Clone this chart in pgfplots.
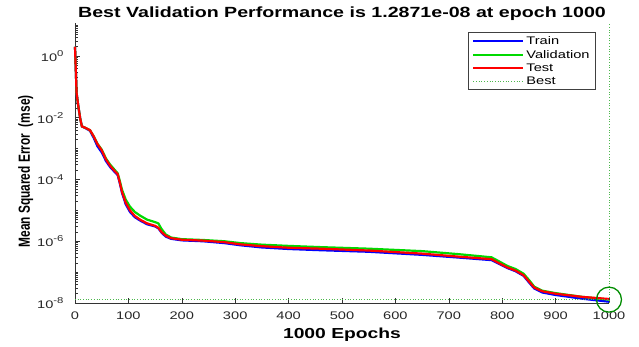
\documentclass[border=0pt]{standalone}
\usepackage{fontspec}
\setmainfont{Liberation Sans}[FakeStretch=1.33]
\newfontfamily\ylabfont{Liberation Sans}
\usepackage{pgfplots}
\pgfplotsset{compat=1.18}
\definecolor{mblue}{rgb}{0,0,1}
\definecolor{mgreen}{rgb}{0,0.85,0}
\definecolor{mred}{rgb}{1,0,0}
\definecolor{bestgreen}{rgb}{0,0.55,0}
\definecolor{dotgreen}{rgb}{0.3,0.72,0.3}
\newcommand{\tlab}[1]{10\raisebox{0.42em}{\fontsize{8.5}{9}\selectfont #1}}

\pgfplotstableread{
x y
0 2.0
3 6.31e-2
6 2.51e-2
10 8.91e-3
13 5.25e-3
20 4.57e-3
28 3.80e-3
35 2.24e-3
42 1.20e-3
50 7.59e-4
58 3.98e-4
66 2.51e-4
74 1.78e-4
80 1.38e-4
84 7.41e-5
88 3.72e-5
95 1.58e-5
103 8.91e-6
112 6.03e-6
122 4.68e-6
135 3.55e-6
150 3.02e-6
156 2.63e-6
162 1.91e-6
170 1.41e-6
180 1.20e-6
200 1.07e-6
240 1.0e-6
280 8.71e-7
310 7.41e-7
350 6.31e-7
400 5.62e-7
460 5.13e-7
550 4.57e-7
650 3.63e-7
720 2.95e-7
780 2.45e-7
795 1.82e-7
810 1.35e-7
825 1.07e-7
840 7.59e-8
850 4.68e-8
860 2.95e-8
875 2.19e-8
900 1.82e-8
950 1.38e-8
1000 1.10e-8
}\trainT

\pgfplotstableread{
x y
0 2.0
3 6.31e-2
6 2.51e-2
10 8.91e-3
13 5.25e-3
20 4.68e-3
28 3.98e-3
35 2.51e-3
42 1.45e-3
50 9.33e-4
58 4.79e-4
66 3.02e-4
74 2.09e-4
80 1.58e-4
84 8.91e-5
88 4.68e-5
95 2.24e-5
103 1.32e-5
112 8.91e-6
122 6.76e-6
135 5.01e-6
150 4.17e-6
156 3.80e-6
162 2.51e-6
170 1.66e-6
180 1.32e-6
200 1.17e-6
240 1.10e-6
280 1.0e-6
310 8.71e-7
350 7.76e-7
400 7.08e-7
460 6.46e-7
550 5.75e-7
650 4.79e-7
720 3.80e-7
780 3.02e-7
795 2.19e-7
810 1.58e-7
825 1.26e-7
840 8.91e-8
850 5.62e-8
860 3.39e-8
875 2.51e-8
900 2.09e-8
950 1.58e-8
1000 1.2871e-8
}\valT

\pgfplotstableread{
x y
0 2.0
3 6.31e-2
6 2.51e-2
10 8.91e-3
13 5.25e-3
20 4.68e-3
28 3.98e-3
35 2.51e-3
42 1.41e-3
50 8.91e-4
58 4.47e-4
66 2.75e-4
74 1.91e-4
80 1.48e-4
84 7.94e-5
88 3.98e-5
95 1.78e-5
103 1.0e-5
112 6.61e-6
122 5.01e-6
135 3.80e-6
150 3.16e-6
156 2.75e-6
162 2.0e-6
170 1.51e-6
180 1.26e-6
200 1.12e-6
240 1.05e-6
280 9.33e-7
310 7.94e-7
350 6.92e-7
400 6.17e-7
460 5.75e-7
550 5.01e-7
650 3.98e-7
720 3.16e-7
780 2.63e-7
795 1.91e-7
810 1.41e-7
825 1.12e-7
840 7.94e-8
850 5.01e-8
860 3.16e-8
875 2.40e-8
900 2.0e-8
950 1.58e-8
1000 1.35e-8
}\testT

\begin{document}
\begin{tikzpicture}
\path[use as bounding box] (-75pt,-43pt) rectangle (564pt,303pt);
\begin{axis}[
  at={(0pt,0pt)}, anchor=south west,
  width=534pt, height=280pt, scale only axis,
  ymode=log, xmin=0, xmax=1000, ymin=1e-8, ymax=11.75,
  clip=false,
  axis x line*=bottom, axis y line*=left,
  axis line style={black!80, line width=0.8pt},
  tick align=inside,
  major tick length=5pt, minor tick length=3pt,
  every tick/.style={black!80, line width=0.6pt},
  xtick={0,100,200,300,400,500,600,700,800,900,1000},
  xticklabels={0,100,200,300,400,500,600,700,800,900,1000},
  ytick={1e-8,1e-6,1e-4,1e-2,1},
  yticklabels={\tlab{-8},\tlab{-6},\tlab{-4},\tlab{-2},\tlab{0}},
  minor ytick={2e-8,3e-8,4e-8,5e-8,6e-8,7e-8,8e-8,9e-8,1e-7,
    2e-7,3e-7,4e-7,5e-7,6e-7,7e-7,8e-7,9e-7,
    2e-6,3e-6,4e-6,5e-6,6e-6,7e-6,8e-6,9e-6,1e-5,
    2e-5,3e-5,4e-5,5e-5,6e-5,7e-5,8e-5,9e-5,
    2e-4,3e-4,4e-4,5e-4,6e-4,7e-4,8e-4,9e-4,1e-3,
    2e-3,3e-3,4e-3,5e-3,6e-3,7e-3,8e-3,9e-3,
    2e-2,3e-2,4e-2,5e-2,6e-2,7e-2,8e-2,9e-2,1e-1,
    2e-1,3e-1,4e-1,5e-1,6e-1,7e-1,8e-1,9e-1,
    2,3,4,5,6,7,8,9,10},
  tick label style={font=\fontsize{11}{13}\selectfont, text=black!85},
  xticklabel style={anchor=base, yshift=-16.5pt},
  yticklabel style={anchor=east, xshift=-8pt},
  title={Best Validation Performance is 1.2871e-08 at epoch 1000},
  title style={font=\bfseries\fontsize{14.75}{16}\selectfont, at={(rel axis cs:0.5,1)}, anchor=base, yshift=0pt},
  xlabel={1000 Epochs},
  xlabel style={font=\bfseries\fontsize{14.5}{16}\selectfont, at={(rel axis cs:0.5,0)}, anchor=base, yshift=-35pt},
  ylabel={\scalebox{1}[1.35]{Mean Squared Error\ \ (mse)}},
  ylabel style={font=\ylabfont\bfseries\fontsize{11.9}{13}\selectfont, at={(axis description cs:-0.0843,0.47)}, anchor=base},
  legend style={at={(rel axis cs:1,1)}, anchor=north east, xshift=-13pt, yshift=-9pt,
    draw=black!75, line width=0.8pt, font=\fontsize{11}{12}\selectfont,
    row sep=0pt, inner xsep=4pt, inner ysep=2.2pt, cells={anchor=west}},
  legend cell align=left,
  legend image code/.code={\draw[#1] (0pt,0pt) -- (50pt,0pt);},
]
\addplot[mblue, line width=2.2pt] table[x=x,y=y] {\trainT};
\addlegendentry{Train}
\addplot[mgreen, line width=2.2pt] table[x=x,y=y] {\valT};
\addlegendentry{Validation}
\addplot[mred, line width=2.2pt] table[x=x,y=y] {\testT};
\addlegendentry{Test}
\addplot[dotgreen, dotted, line width=0.7pt] coordinates {(0,1.2871e-8) (1000,1.2871e-8)};
\addlegendentry{Best}
\addplot[dotgreen, dotted, line width=0.7pt, forget plot] coordinates {(1000,1e-8) (1000,11.75)};
\addplot[only marks, mark=o, mark size=12.5pt, bestgreen, mark options={line width=1.3pt}, forget plot] coordinates {(1000,1.2871e-8)};
\end{axis}
\end{tikzpicture}
\end{document}
